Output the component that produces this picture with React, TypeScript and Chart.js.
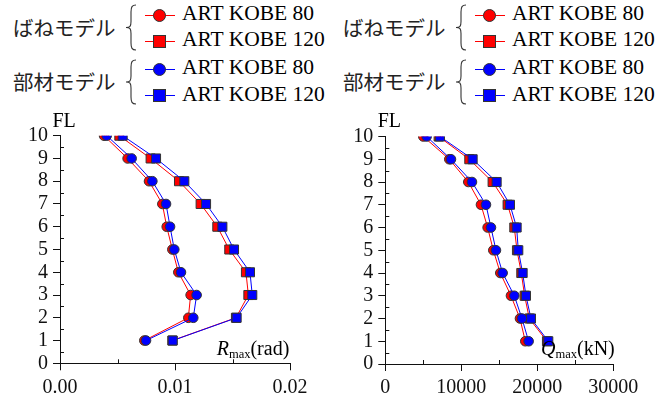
import React, { useEffect, useRef } from 'react';
import { Chart, registerables } from 'chart.js';
Chart.register(...registerables);

const floors = [1, 2, 3, 4, 5, 6, 7, 8, 9, 10];
const floorTickValues = [0, 1, 2, 3, 4, 5, 6, 7, 8, 9, 10];
const floorTickLabels = ['0', '1', '2', '3', '4', '5', '6', '7', '8', '9', '10'];

const driftSpring80 = [0.00733, 0.01116, 0.01136, 0.01029, 0.00977, 0.00928, 0.0089, 0.00774, 0.00588, 0.00383];
const driftMember80 = [0.00748, 0.01159, 0.01188, 0.01052, 0.00994, 0.00957, 0.00922, 0.00803, 0.00623, 0.00406];
const driftSpring120 = [0.00977, 0.0153, 0.01638, 0.01617, 0.01472, 0.01368, 0.01223, 0.01035, 0.00788, 0.00516];
const driftMember120 = [0.0098, 0.01536, 0.01672, 0.01652, 0.01513, 0.01412, 0.0127, 0.01081, 0.00835, 0.00545];

const shearSpring80 = [18421, 17719, 16535, 15132, 14211, 13465, 12588, 10921, 8421, 5000];
const shearMember80 = [18860, 17982, 16974, 15439, 14561, 13904, 13246, 11404, 8640, 5439];
const shearSpring120 = [21272, 18947, 18333, 17895, 17325, 16974, 16096, 14123, 11053, 7018];
const shearMember120 = [21447, 19167, 18509, 18070, 17500, 17281, 16404, 14649, 11491, 7193];

const driftTickValues = [0, 0.01, 0.02];
const driftTickLabels = ['0.00', '0.01', '0.02'];
const driftMinor = [0.005, 0.015];
const shearTickValues = [0, 10000, 20000, 30000];
const shearTickLabels = ['0', '10000', '20000', '30000'];
const shearMinor = [5000, 15000, 25000];
const floorMinor = [0.5, 1.5, 2.5, 3.5, 4.5, 5.5, 6.5, 7.5, 8.5, 9.5];

const groupLabels = ['ばねモデル', '部材モデル'];
const seriesLabels = ['ART KOBE 80', 'ART KOBE 120'];

const RED = '#ff0000';
const BLUE = '#0000ff';
const INK = '#111';
const SERIF = '"Liberation Serif", serif';
const CJK = '"Noto Sans CJK JP", sans-serif';

const minorTicks = {
  id: 'minorTicks',
  afterDraw(chart: any, _args: any, opts: any) {
    const { ctx, chartArea, scales } = chart;
    ctx.save();
    ctx.strokeStyle = INK;
    ctx.lineWidth = 1;
    ctx.beginPath();
    for (const v of opts.x || []) {
      const px = Math.round(scales.x.getPixelForValue(v)) + 0.5;
      ctx.moveTo(px, chartArea.bottom);
      ctx.lineTo(px, chartArea.bottom - 4);
    }
    for (const v of opts.y || []) {
      const py = Math.round(scales.y.getPixelForValue(v)) + 0.5;
      ctx.moveTo(chartArea.left, py);
      ctx.lineTo(chartArea.left + 4, py);
    }
    ctx.stroke();
    ctx.restore();
  },
};

function ds(vals: number[], color: string, style: string) {
  return {
    data: floors.map((f, i) => ({ x: vals[i], y: f })),
    showLine: true,
    borderColor: color,
    borderWidth: 1,
    backgroundColor: color,
    pointStyle: style,
    pointRadius: style === 'rect' ? 6.4 : 4.8,
    pointBackgroundColor: color,
    pointBorderColor: '#333',
    pointBorderWidth: 1,
  };
}

type Panel = {
  s80: number[]; m80: number[]; s120: number[]; m120: number[];
  max: number; tickValues: number[]; tickLabels: string[]; minor: number[];
  top: number; right: number; xh: number; yw: number;
};

function makeConfig(p: Panel): any {
  const font = { family: SERIF, size: 20 };
  return {
    type: 'scatter',
    data: {
      datasets: [
        ds(p.m80, BLUE, 'circle'),
        ds(p.m120, BLUE, 'rect'),
        ds(p.s80, RED, 'circle'),
        ds(p.s120, RED, 'rect'),
      ],
    },
    options: {
      responsive: false,
      animation: false,
      events: [],
      layout: { padding: { left: 0, top: p.top, right: p.right, bottom: 0 } },
      plugins: {
        legend: { display: false },
        tooltip: { enabled: false },
        minorTicks: { x: p.minor, y: floorMinor },
      },
      scales: {
        x: {
          type: 'linear',
          min: 0,
          max: p.max,
          afterBuildTicks: (s: any) => { s.ticks = p.tickValues.map((v) => ({ value: v })); },
          afterFit: (s: any) => { s.height = p.xh; },
          grid: { drawOnChartArea: false, drawTicks: true, tickLength: 7, color: INK },
          border: { display: true, color: INK, width: 1 },
          ticks: { font, color: INK, padding: 5, maxRotation: 0, autoSkip: false,
            callback: (_v: any, i: number) => p.tickLabels[i] },
        },
        y: {
          type: 'linear',
          min: 0,
          max: 10,
          afterBuildTicks: (s: any) => { s.ticks = floorTickValues.map((v) => ({ value: v })); },
          afterFit: (s: any) => { s.width = p.yw; },
          grid: { drawOnChartArea: false, drawTicks: true, tickLength: 7, color: INK },
          border: { display: true, color: INK, width: 1 },
          ticks: { font, color: INK, padding: 5, autoSkip: false,
            callback: (_v: any, i: number) => floorTickLabels[i] },
        },
      },
    },
    plugins: [minorTicks],
  };
}

function ChartPanel({ left, panel }: { left: number; panel: Panel }) {
  const ref = useRef<HTMLCanvasElement>(null);
  useEffect(() => {
    const c = new Chart(ref.current as HTMLCanvasElement, makeConfig(panel));
    return () => c.destroy();
  }, []);
  return (
    <canvas ref={ref} width={336} height={284}
      style={{ position: 'absolute', left, top: 110, width: 336, height: 284, display: 'block' }} />
  );
}

function Brace({ x, y1, y2 }: { x: number; y1: number; y2: number }) {
  const m = (y1 + y2) / 2;
  const d = `M ${x + 7} ${y1} C ${x + 3} ${y1} ${x + 2} ${y1 + 2} ${x + 2} ${y1 + 7} L ${x + 2} ${m - 6} C ${x + 2} ${m - 1} ${x + 1} ${m} ${x - 3} ${m} C ${x + 1} ${m} ${x + 2} ${m + 1} ${x + 2} ${m + 6} L ${x + 2} ${y2 - 7} C ${x + 2} ${y2 - 2} ${x + 3} ${y2} ${x + 7} ${y2}`;
  return (
    <svg width={672} height={394} style={{ position: 'absolute', left: 0, top: 0, pointerEvents: 'none' }}>
      <path d={d} fill="none" stroke="#333" strokeWidth={1.1} />
    </svg>
  );
}

function Legend({ ox }: { ox: number }) {
  const rows = [
    { y: 15, base: 20.7, color: RED, shape: 'circle', label: seriesLabels[0] },
    { y: 41.5, base: 46.7, color: RED, shape: 'rect', label: seriesLabels[1] },
    { y: 69, base: 75, color: BLUE, shape: 'circle', label: seriesLabels[0] },
    { y: 95, base: 101.7, color: BLUE, shape: 'rect', label: seriesLabels[1] },
  ];
  const groups = [
    { label: groupLabels[0], cy: 28.3, y1: 5, y2: 50 },
    { label: groupLabels[1], cy: 81.7, y1: 60, y2: 104 },
  ];
  return (
    <>
      {groups.map((g, i) => (
        <React.Fragment key={i}>
          <div style={{ position: 'absolute', left: ox + 13, top: g.cy - 11, fontFamily: CJK, fontSize: 20.5,
            lineHeight: '20px', color: '#222', whiteSpace: 'nowrap' }}>{g.label}</div>
          <Brace x={ox + 129} y1={g.y1} y2={g.y2} />
        </React.Fragment>
      ))}
      {rows.map((r, i) => (
        <React.Fragment key={i}>
          <div style={{ position: 'absolute', left: ox + 145, top: r.y - 0.5, width: 30, height: 1, background: r.color }} />
          <div style={{ position: 'absolute', left: ox + 159 - 6.5, top: r.y - 6.5, width: 13, height: 13,
            boxSizing: 'border-box', background: r.color, border: '1px solid #333',
            borderRadius: r.shape === 'circle' ? '50%' : 0 }} />
          <div style={{ position: 'absolute', left: ox + 182, top: r.base - 18, fontFamily: SERIF, fontSize: 21.5,
            lineHeight: '21.5px', color: '#000', whiteSpace: 'nowrap' }}>{r.label}</div>
        </React.Fragment>
      ))}
    </>
  );
}

function AxisTitle({ left, base, sym, unit }: { left: number; base: number; sym: string; unit: string }) {
  return (
    <div style={{ position: 'absolute', left, top: base - 16.75, fontFamily: SERIF, fontSize: 20,
      lineHeight: '20px', color: '#000', whiteSpace: 'nowrap' }}>
      <i>{sym}</i><span style={{ fontSize: 12.5, position: 'relative', top: 3 }}>max</span>{unit}
    </div>
  );
}

export default function App() {
  const left: Panel = {
    s80: driftSpring80, m80: driftMember80, s120: driftSpring120, m120: driftMember120,
    max: 0.02, tickValues: driftTickValues, tickLabels: driftTickLabels, minor: driftMinor,
    top: 25.7, right: 46, xh: 30.7, yw: 60,
  };
  const right: Panel = {
    s80: shearSpring80, m80: shearMember80, s120: shearSpring120, m120: shearMember120,
    max: 30000, tickValues: shearTickValues, tickLabels: shearTickLabels, minor: shearMinor,
    top: 26.5, right: 58.7, xh: 30, yw: 49.3,
  };
  return (
    <div style={{ position: 'absolute', left: 0, top: 0, width: 672, height: 394, background: '#fff', overflow: 'hidden' }}>
      <Legend ox={0} />
      <Legend ox={330} />
      <ChartPanel left={0} panel={left} />
      <ChartPanel left={336} panel={right} />
      <div style={{ position: 'absolute', left: 52.5, top: 126.7 - 16.75, fontFamily: SERIF, fontSize: 20,
        lineHeight: '20px', color: '#000' }}>FL</div>
      <div style={{ position: 'absolute', left: 377.7, top: 126.7 - 16.75, fontFamily: SERIF, fontSize: 20,
        lineHeight: '20px', color: '#000' }}>FL</div>
      <AxisTitle left={216.7} base={354.3} sym="R" unit="(rad)" />
      <AxisTitle left={541} base={355} sym="Q" unit="(kN)" />
    </div>
  );
}
